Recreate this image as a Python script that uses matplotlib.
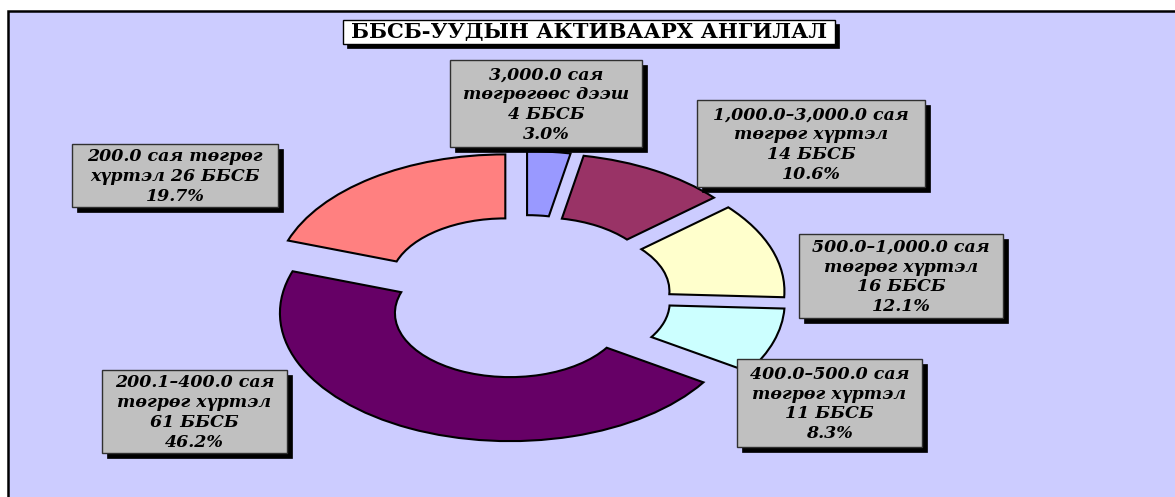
import matplotlib
matplotlib.use("Agg")
import matplotlib.pyplot as plt
from matplotlib.patches import Rectangle

# ---------------- data ----------------
title = "ББСБ-УУДЫН АКТИВААРХ АНГИЛАЛ"
ranges = [
    "3,000.0 сая\nтөгрөгөөс дээш",
    "1,000.0–3,000.0 сая\nтөгрөг хүртэл",
    "500.0–1,000.0 сая\nтөгрөг хүртэл",
    "400.0–500.0 сая\nтөгрөг хүртэл",
    "200.1–400.0 сая\nтөгрөг хүртэл",
    "200.0 сая төгрөг\nхүртэл",
]
counts = [4, 14, 16, 11, 61, 26]
percents = [3.0, 10.6, 12.1, 8.3, 46.2, 19.7]
colors = ["#9999FF", "#993366", "#FFFFCC", "#CCFFFF", "#660066", "#FF8080"]
separators = ["\n", "\n", "\n", "\n", "\n", " "]

# ---------------- layout (pixels, origin top-left) ----------------
W, H = 1175, 497
label_boxes = [
    (450, 60, 642, 147),
    (697, 100, 925, 187),
    (799, 234, 1003, 318),
    (737, 359, 922, 447),
    (102, 370, 287, 453),
    (72, 144, 278, 207),
]
title_box = (343, 20, 835, 44)
SH = 5  # shadow offset px
cx, cy, Rx, Ry = 524, 297, 230, 128
serif = ["DejaVu Serif"]

fig = plt.figure(figsize=(W / 100, H / 100), dpi=100)
fig.patch.set_facecolor("white")


def fx(x):
    return x / W


def fy(y):
    return 1 - y / H


def add_rect(x0, y0, x1, y1, fc, ec, lw, z):
    r = Rectangle((fx(x0), fy(y1)), fx(x1) - fx(x0), fy(y0) - fy(y1),
                  transform=fig.transFigure, facecolor=fc, edgecolor=ec,
                  linewidth=lw, zorder=z)
    fig.add_artist(r)


# plot area background
bg = Rectangle((fx(8), -0.01), 1.0, fy(11) + 0.01, transform=fig.transFigure,
               facecolor="#CCCCFF", edgecolor="black", linewidth=1.8, zorder=-5)
fig.add_artist(bg)

ax = fig.add_axes([0, 0, 1, 1])
ax.set_facecolor("none")
ax.pie(counts, colors=colors, startangle=90, counterclock=False,
       explode=[0.14] * len(counts), radius=1,
       wedgeprops=dict(width=0.5, edgecolor="black", linewidth=1.5))
ax.set_aspect("auto")
ax.set_xlim(-cx / Rx, (W - cx) / Rx)
ax.set_ylim((cy - H) / Ry, cy / Ry)
ax.axis("off")

# title
x0, y0, x1, y1 = title_box
add_rect(x0 + 4, y0 + 4, x1 + 4, y1 + 4, "black", "black", 0.5, 5)
add_rect(x0, y0, x1, y1, "white", "black", 1.0, 6)
fig.text(fx((x0 + x1) / 2), fy((y0 + y1) / 2), title, ha="center", va="center",
         fontsize=15.2, fontweight="bold", family=serif, zorder=7)

# labels
for rng, n, p, sep, box in zip(ranges, counts, percents, separators, label_boxes):
    x0, y0, x1, y1 = box
    add_rect(x0 + SH, y0 + SH, x1 + SH, y1 + SH, "black", "black", 0.5, 5)
    add_rect(x0, y0, x1, y1, "#C0C0C0", "#303030", 1.0, 6)
    txt = f"{rng}{sep}{n} ББСБ\n{p:.1f}%"
    fig.text(fx((x0 + x1) / 2), fy((y0 + y1) / 2 + 1), txt, ha="center", va="center",
             fontsize=12.5, fontweight="bold", fontstyle="italic", family=serif,
             linespacing=1.22, zorder=7)

fig.savefig("out.png", dpi=100)
